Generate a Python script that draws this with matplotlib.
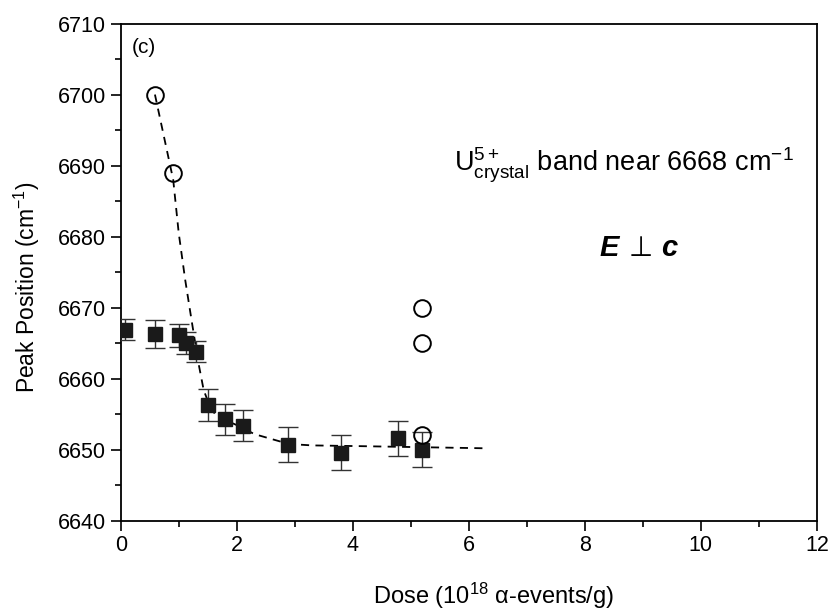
import matplotlib
matplotlib.use("Agg")
import matplotlib.pyplot as plt

plt.rcParams['font.family'] = ['Liberation Sans', 'DejaVu Sans']
plt.rcParams['mathtext.fontset'] = 'custom'
plt.rcParams['mathtext.rm'] = 'Liberation Sans'
plt.rcParams['mathtext.it'] = 'Liberation Sans:italic'
plt.rcParams['mathtext.bf'] = 'Liberation Sans:bold'

# filled squares with error bars
dose = [0.07, 0.59, 1.0, 1.12, 1.29, 1.50, 1.79, 2.10, 2.89, 3.79, 4.78, 5.19]
peak = [6666.9, 6666.3, 6666.1, 6665.0, 6663.8, 6656.3, 6654.3, 6653.4, 6650.7, 6649.6, 6651.6, 6650.0]
peak_err = [1.5, 2.0, 1.6, 1.5, 1.5, 2.2, 2.2, 2.2, 2.5, 2.5, 2.5, 2.5]

# open circles
dose_open = [0.59, 0.905, 5.19, 5.19, 5.19]
peak_open = [6700.0, 6689.0, 6670.0, 6665.0, 6652.1]

# dashed guide line
guide_x = [0.59, 0.905, 1.0, 1.11, 1.22, 1.34, 1.43, 1.55, 1.65, 1.85, 2.1, 2.3, 2.9, 3.3, 4.1, 6.24]
guide_y = [6700.0, 6688.0, 6680.5, 6674.0, 6668.3, 6662.2, 6658.4, 6655.8, 6654.8, 6654.0, 6653.1, 6652.2, 6650.8, 6650.6, 6650.5, 6650.2]

fig = plt.figure(figsize=(8.29, 6.11), dpi=100)
ax = fig.add_axes([0.1456, 0.1478, 0.8398, 0.8137])

ax.plot(guide_x, guide_y, color='black', lw=1.3, dashes=(4.5, 3.5), zorder=2)
ax.errorbar(dose, peak, yerr=peak_err, fmt='s', color='#1a1a1a', ms=10,
            ecolor='#333333', elinewidth=1.0, capsize=7.5, capthick=1.0, zorder=3)
ax.plot(dose_open, peak_open, 'o', mfc='none', mec='black', ms=12, mew=1.4, zorder=4)

ax.set_xlim(0, 12)
ax.set_ylim(6640, 6710)
ax.set_xticks(range(0, 13, 2))
ax.set_xticks(range(1, 12, 2), minor=True)
ax.set_yticks(range(6640, 6711, 10))
ax.set_yticks(range(6645, 6710, 10), minor=True)
ax.tick_params(which='major', direction='out', length=7, width=1.2, labelsize=15.5)
ax.tick_params(which='minor', direction='out', length=4, width=1.2)
for s in ax.spines.values():
    s.set_linewidth(1.3)

ax.set_xlabel("Dose (10$^{18}$ α-events/g)", fontsize=17)
ax.xaxis.set_label_coords(0.535, -0.12)
ax.set_ylabel(r"Peak Position (cm$^{-1}$)", fontsize=16.5)
ax.yaxis.set_label_coords(-0.113, 0.47)

ax.text(0.19, 6705.9, "(c)", fontsize=15)
ax.text(5.75, 6689.2, r"U$^{5+}_{\rm crystal}$ band near 6668 cm$^{-1}$", fontsize=19.5)
ax.text(8.25, 6677.3, "E", fontsize=21, weight='bold', style='italic')
ax.text(8.97, 6677.3, "\u22a5", fontsize=20, ha='center', family=['DejaVu Sans'])
ax.text(9.31, 6677.3, "c", fontsize=21, weight='bold', style='italic')

fig.savefig("out.png", dpi=100)
